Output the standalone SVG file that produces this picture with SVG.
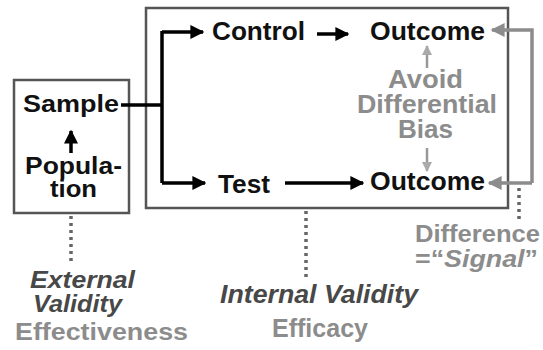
<svg xmlns="http://www.w3.org/2000/svg" width="543" height="350" viewBox="0 0 543 350">
<defs>
<style>
text{font-family:"Liberation Sans",Arial,sans-serif;font-weight:bold;font-size:25px}
.blk{fill:#111}
.gry{fill:#8c8c8c}
.dk{fill:#484848;font-style:italic}
.sm{font-size:23px}
.box{fill:none;stroke:#555;stroke-width:2.5}
.line{fill:none;stroke:#000;stroke-width:3.5}
.gline{fill:none;stroke:#8c8c8c;stroke-width:3.5}
.garr{fill:none;stroke:#999;stroke-width:2.5}
.dot{fill:none;stroke:#666;stroke-width:3.5;stroke-dasharray:3 4}
</style>
<marker id="ah" viewBox="0 0 10 10" refX="9" refY="5" markerWidth="4" markerHeight="4" orient="auto" markerUnits="strokeWidth"><path d="M0,0L10,5L0,10z" fill="#000"/></marker>
<marker id="gah" viewBox="0 0 10 10" refX="9" refY="5" markerWidth="4" markerHeight="4" orient="auto" markerUnits="strokeWidth"><path d="M0,0L10,5L0,10z" fill="#8c8c8c"/></marker>
<marker id="lah" viewBox="0 0 10 10" refX="9" refY="5" markerWidth="4" markerHeight="4" orient="auto" markerUnits="strokeWidth"><path d="M0,0L10,5L0,10z" fill="#aaa"/></marker>
</defs>
<rect width="543" height="350" fill="#fff"/>
<g id="sample-box">
<rect class="box" x="14" y="80" width="115" height="133"/>
<text class="blk sm" x="23" y="112" textLength="96" lengthAdjust="spacingAndGlyphs">Sample</text>
<text class="blk sm" x="25" y="174" textLength="97" lengthAdjust="spacingAndGlyphs">Popula-</text>
<text class="blk sm" x="50" y="197" textLength="47" lengthAdjust="spacingAndGlyphs">tion</text>
</g>
<g id="study-box">
<rect class="box" x="146" y="8" width="362" height="200"/>
</g>
<g id="control"><text class="blk" x="212" y="40" textLength="93" lengthAdjust="spacingAndGlyphs">Control</text></g>
<g id="test"><text class="blk" x="218" y="193" textLength="52" lengthAdjust="spacingAndGlyphs">Test</text></g>
<g id="outcome-control"><text class="blk" x="370" y="40" textLength="115" lengthAdjust="spacingAndGlyphs">Outcome</text></g>
<g id="outcome-test"><text class="blk" x="370" y="190" textLength="115" lengthAdjust="spacingAndGlyphs">Outcome</text></g>
<g id="bias">
<text class="gry" x="388" y="88" textLength="75" lengthAdjust="spacingAndGlyphs">Avoid</text>
<text class="gry" x="357" y="113" textLength="140" lengthAdjust="spacingAndGlyphs">Differential</text>
<text class="gry" x="398" y="138" textLength="55" lengthAdjust="spacingAndGlyphs">Bias</text>
</g>
<g id="difference">
<text class="gry sm" x="415" y="242" textLength="125" lengthAdjust="spacingAndGlyphs">Difference</text>
<text class="gry sm" x="415" y="267" textLength="123" lengthAdjust="spacingAndGlyphs">=“<tspan font-style="italic">Signal</tspan>”</text>
</g>
<g id="external">
<text class="dk sm" x="30" y="288" textLength="105" lengthAdjust="spacingAndGlyphs">External</text>
<text class="dk sm" x="33" y="312" textLength="89" lengthAdjust="spacingAndGlyphs">Validity</text>
<text class="gry sm" x="15" y="340" textLength="173" lengthAdjust="spacingAndGlyphs">Effectiveness</text>
</g>
<g id="internal">
<text class="dk" x="220" y="303" textLength="198" lengthAdjust="spacingAndGlyphs">Internal Validity</text>
<text class="gry" x="272" y="337" textLength="96" lengthAdjust="spacingAndGlyphs">Efficacy</text>
</g>
<g id="connectors">
<path class="line" d="M71,153V131" marker-end="url(#ah)"/>
<path class="line" d="M121,105H162"/>
<path class="line" d="M162,31V183"/>
<path class="line" d="M162,32H203" marker-end="url(#ah)"/>
<path class="line" d="M162,183H205" marker-end="url(#ah)"/>
<path class="line" d="M317,34H348" marker-end="url(#ah)"/>
<path class="line" d="M285,183H363" marker-end="url(#ah)"/>
<path class="gline" d="M532,183V30H492" marker-end="url(#gah)"/>
<path class="gline" d="M532,183H489" marker-end="url(#gah)"/>
<path class="garr" d="M427,68V46" marker-end="url(#lah)"/>
<path class="garr" d="M427,148V171" marker-end="url(#lah)"/>
<path class="dot" d="M519,188V221"/>
<path class="dot" d="M71,216V262"/>
<path class="dot" d="M306,211V278"/>
</g>
</svg>
